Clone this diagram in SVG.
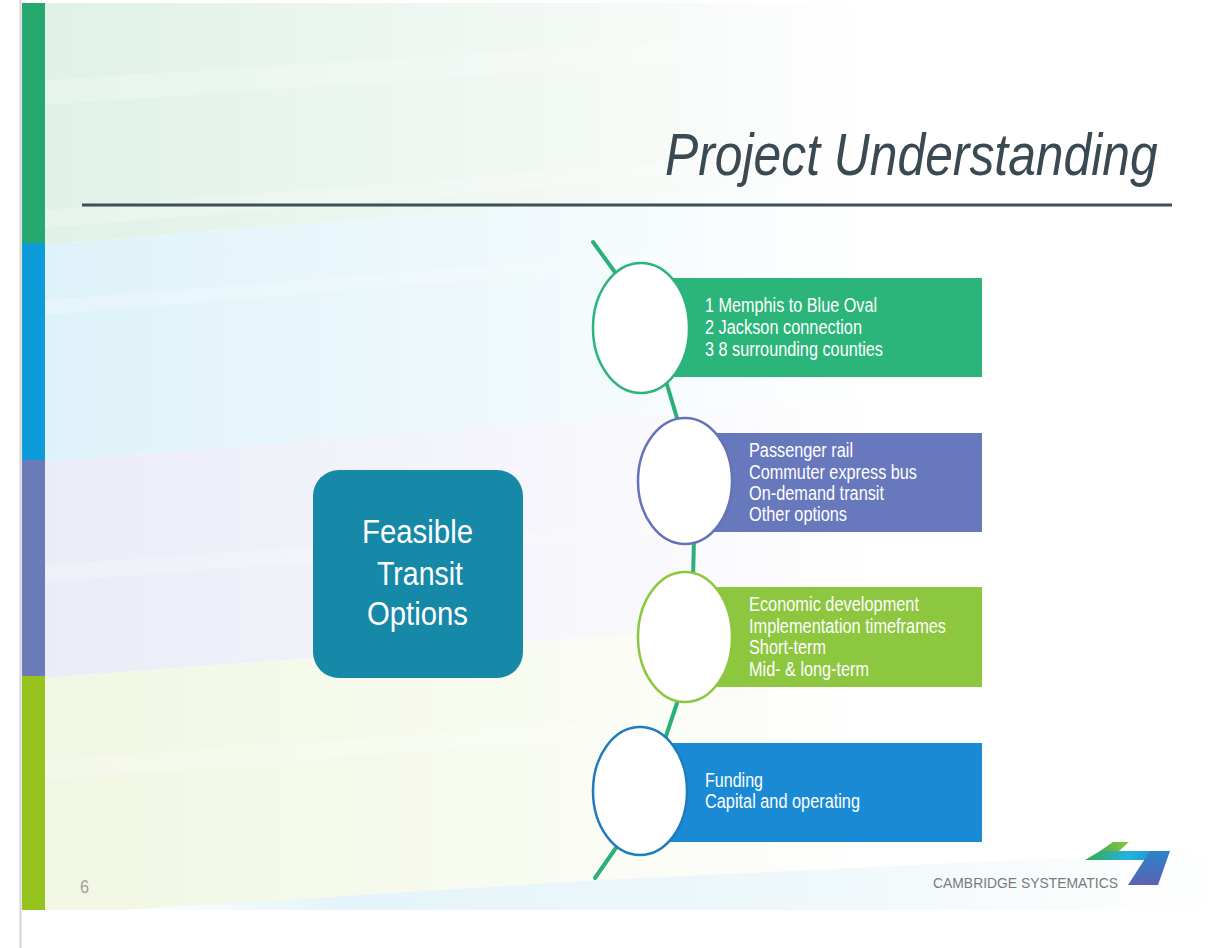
<svg xmlns="http://www.w3.org/2000/svg" width="1227" height="948" viewBox="0 0 1227 948">
  <defs>
    <linearGradient id="bgG" x1="0" x2="1" y1="0" y2="0">
      <stop offset="0" stop-color="#e0f1e7"/>
      <stop offset="0.4" stop-color="#f1f8f3"/>
      <stop offset="0.7" stop-color="#ffffff"/>
    </linearGradient>
    <linearGradient id="bgB" x1="0" x2="1" y1="0" y2="0">
      <stop offset="0" stop-color="#def2f9"/>
      <stop offset="0.4" stop-color="#f0f9fc"/>
      <stop offset="0.7" stop-color="#ffffff"/>
    </linearGradient>
    <linearGradient id="bgP" x1="0" x2="1" y1="0" y2="0">
      <stop offset="0" stop-color="#ebecf7"/>
      <stop offset="0.4" stop-color="#f5f5fb"/>
      <stop offset="0.7" stop-color="#ffffff"/>
    </linearGradient>
    <linearGradient id="bgL" x1="0" x2="1" y1="0" y2="0">
      <stop offset="0" stop-color="#f1f7e2"/>
      <stop offset="0.4" stop-color="#f8fbf0"/>
      <stop offset="0.7" stop-color="#ffffff"/>
    </linearGradient>
    <linearGradient id="bgS" x1="0" x2="1" y1="0" y2="0">
      <stop offset="0" stop-color="#ffffff"/>
      <stop offset="0.2" stop-color="#e4f4fa"/>
      <stop offset="0.6" stop-color="#eef8fb"/>
      <stop offset="1" stop-color="#ffffff"/>
    </linearGradient>
    <linearGradient id="logoBand" x1="0" x2="1" y1="0" y2="0">
      <stop offset="0" stop-color="#3aa94a"/>
      <stop offset="0.5" stop-color="#22b3e0"/>
      <stop offset="1" stop-color="#2b7fc4"/>
    </linearGradient>
    <linearGradient id="logoDown" x1="0" x2="0" y1="0" y2="1">
      <stop offset="0" stop-color="#2a84c8"/>
      <stop offset="1" stop-color="#5b62b0"/>
    </linearGradient>
    <linearGradient id="logoTop" x1="0" x2="1" y1="0" y2="0">
      <stop offset="0" stop-color="#4bb04a"/>
      <stop offset="1" stop-color="#8dc63f"/>
    </linearGradient>
    <style>
      .item { font-family: "Liberation Sans", Arial, sans-serif; font-size: 19.5px; fill: #ffffff; }
      .hubtxt { font-family: "Liberation Sans", Arial, sans-serif; font-size: 33px; fill: #ffffff; }
      .conn { stroke: #2bb07a; stroke-width: 4; fill: none; stroke-linecap: round; }
      .circ { fill: #ffffff; stroke-width: 2.5; }
      .stripe { fill: #ffffff; opacity: 0.22; }
    </style>
  </defs>

  <!-- page background -->
  <rect x="0" y="0" width="1227" height="948" fill="#ffffff"/>
  <line x1="20.5" y1="0" x2="20.5" y2="948" stroke="#d4d4d4" stroke-width="2"/>

  <!-- slide background bands -->
  <polygon points="45,3 1227,3 1227,150 45,245" fill="url(#bgG)"/>
  <polygon points="45,245 1227,150 1227,370 45,462" fill="url(#bgB)"/>
  <polygon points="45,462 1227,370 1227,590 45,678" fill="url(#bgP)"/>
  <polygon points="45,678 1227,590 1227,910 45,910" fill="url(#bgL)"/>
  <!-- soft light stripes -->
  <polygon class="stripe" points="45,80 700,40 700,60 45,105"/>
  <polygon class="stripe" points="45,210 700,160 700,175 45,228"/>
  <polygon class="stripe" points="45,300 700,250 700,262 45,315"/>
  <polygon class="stripe" points="45,565 700,520 700,532 45,582"/>
  <polygon class="stripe" points="45,760 700,715 700,730 45,780"/>
  <polygon points="120,910 600,880 1227,850 1227,910" fill="url(#bgS)"/>

  <!-- left colour bars -->
  <rect x="22" y="3" width="23" height="241" fill="#27a86e"/>
  <rect x="22" y="243" width="23" height="218" fill="#0e9bd9"/>
  <rect x="22" y="460" width="23" height="217" fill="#6b7bb8"/>
  <rect x="22" y="676" width="23" height="234" fill="#97c31f"/>

  <!-- title -->
  <text transform="translate(665,175) scale(0.83,1)" x="0" y="0" font-family="'Liberation Sans', Arial, sans-serif" font-size="60" font-style="italic" fill="#3b4a52">Project Understanding</text>
  <line x1="82" y1="205" x2="1172" y2="205" stroke="#3d4f57" stroke-width="3"/>

  <!-- connectors -->
  <g id="connectors">
    <path class="conn" d="M593,242 L625,286 M665,378 L680,428 M694,538 L693,580 M680,694 L664,742 M620,842 L595,878"/>
  </g>

  <!-- hub -->
  <g id="hub">
    <rect x="313" y="470" width="210" height="208" rx="26" ry="26" fill="#1688a8"/>
    <text class="hubtxt" x="362" y="543" textLength="111" lengthAdjust="spacingAndGlyphs">Feasible</text>
    <text class="hubtxt" x="377" y="585" textLength="86" lengthAdjust="spacingAndGlyphs">Transit</text>
    <text class="hubtxt" x="367" y="625" textLength="101" lengthAdjust="spacingAndGlyphs">Options</text>
  </g>

  <!-- item 1 -->
  <g id="item1">
    <rect x="660" y="278" width="322" height="99" fill="#2bb57a"/>
    <ellipse class="circ" cx="641" cy="328" rx="48" ry="65" stroke="#2bb57a"/>
    <text class="item" x="705" y="312" textLength="172" lengthAdjust="spacingAndGlyphs">1 Memphis to Blue Oval</text>
    <text class="item" x="705" y="334" textLength="157" lengthAdjust="spacingAndGlyphs">2 Jackson connection</text>
    <text class="item" x="705" y="356" textLength="178" lengthAdjust="spacingAndGlyphs">3 8 surrounding counties</text>
  </g>

  <!-- item 2 -->
  <g id="item2">
    <rect x="700" y="433" width="282" height="99" fill="#6878bd"/>
    <ellipse class="circ" cx="685" cy="481" rx="47" ry="63" stroke="#6472b8"/>
    <text class="item" x="749" y="457" textLength="104" lengthAdjust="spacingAndGlyphs">Passenger rail</text>
    <text class="item" x="749" y="479" textLength="168" lengthAdjust="spacingAndGlyphs">Commuter express bus</text>
    <text class="item" x="749" y="500" textLength="135" lengthAdjust="spacingAndGlyphs">On-demand transit</text>
    <text class="item" x="749" y="521" textLength="98" lengthAdjust="spacingAndGlyphs">Other options</text>
  </g>

  <!-- item 3 -->
  <g id="item3">
    <rect x="700" y="587" width="282" height="100" fill="#8dc63f"/>
    <ellipse class="circ" cx="685" cy="637" rx="47" ry="65" stroke="#8dc63f"/>
    <text class="item" x="749" y="611" textLength="170" lengthAdjust="spacingAndGlyphs">Economic development</text>
    <text class="item" x="749" y="633" textLength="197" lengthAdjust="spacingAndGlyphs">Implementation timeframes</text>
    <text class="item" x="749" y="654" textLength="77" lengthAdjust="spacingAndGlyphs">Short-term</text>
    <text class="item" x="749" y="676" textLength="120" lengthAdjust="spacingAndGlyphs">Mid- &amp; long-term</text>
  </g>

  <!-- item 4 -->
  <g id="item4">
    <rect x="660" y="743" width="322" height="99" fill="#1a8ad4"/>
    <ellipse class="circ" cx="640" cy="791" rx="47" ry="64" stroke="#1f7bc0"/>
    <text class="item" x="705" y="787" textLength="58" lengthAdjust="spacingAndGlyphs">Funding</text>
    <text class="item" x="705" y="808" textLength="155" lengthAdjust="spacingAndGlyphs">Capital and operating</text>
  </g>

  <!-- page number -->
  <text x="80" y="893" font-family="'Liberation Sans', Arial, sans-serif" font-size="18" fill="#a0a0a0" textLength="9" lengthAdjust="spacingAndGlyphs">6</text>

  <!-- logo -->
  <g id="logo">
    <polygon points="1113,842 1129,842 1119,851 1100,851" fill="url(#logoTop)"/>
    <polygon points="1100,851 1170,851 1164,860 1085,860" fill="url(#logoBand)"/>
    <polygon points="1150,851 1170,851 1158,885 1128,885" fill="url(#logoDown)"/>
    <text x="933" y="888" font-family="'Liberation Sans', Arial, sans-serif" font-size="15" fill="#7a7a7a" textLength="185" lengthAdjust="spacingAndGlyphs">CAMBRIDGE SYSTEMATICS</text>
  </g>
</svg>
